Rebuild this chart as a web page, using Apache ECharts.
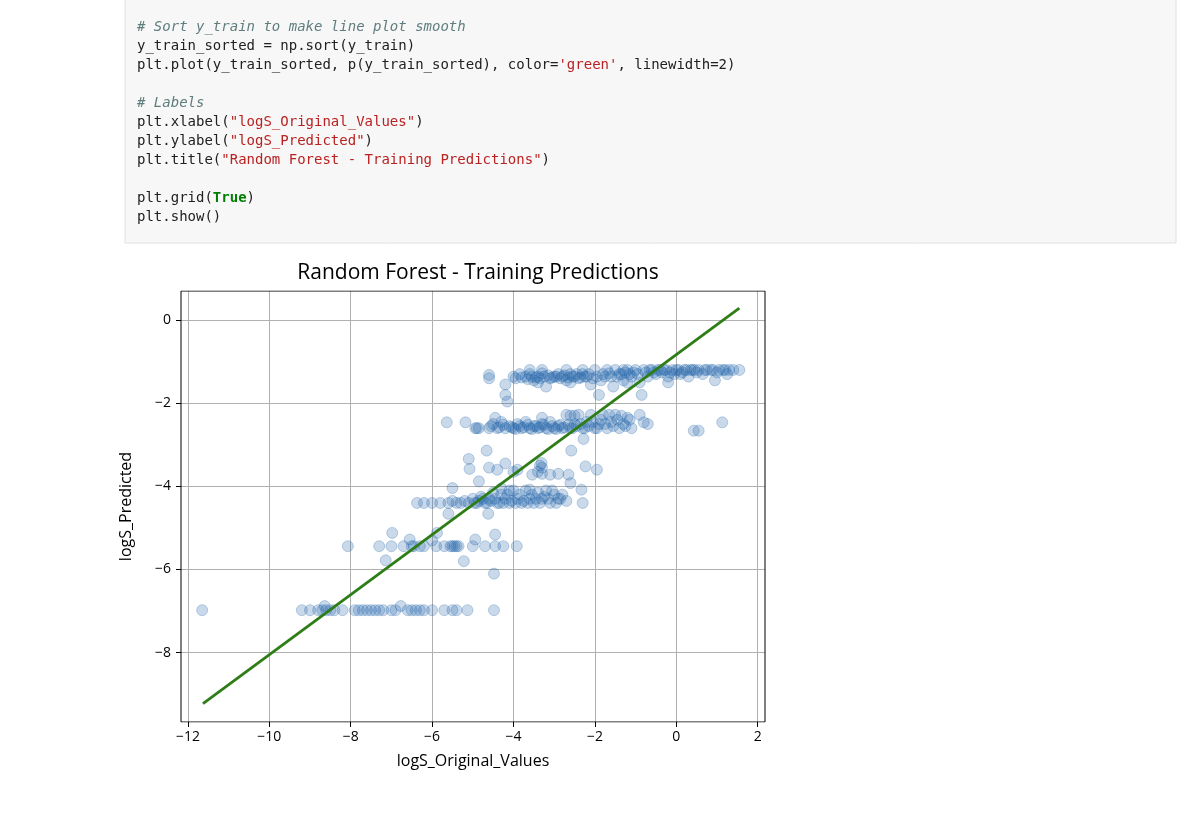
<!DOCTYPE html>
<html>
<head>
<meta charset="utf-8">
<script src="https://cdn.jsdelivr.net/npm/echarts@6/dist/echarts.min.js"></script>
<style>
html,body{margin:0;padding:0;background:#fff;}
#chart{width:1200px;height:816px;}
</style>
</head>
<body>
<div id="chart"></div>
<script>
// tick positions
var xTicks = [-12, -10, -8, -6, -4, -2, 0, 2];
var yTicks = [0, -2, -4, -6, -8];

// band around logS_Predicted -1.3
var bandTop = [
  [-4.6,-1.4],[-4.6,-1.32],[-4.2,-1.55],[-4.2,-1.8],[-4.15,-1.96],[-4.0,-1.36],[-3.85,-1.3],[-3.7,-1.36],
  [-3.6,-1.3],[-3.5,-1.45],[-3.4,-1.36],[-3.3,-1.28],[-3.2,-1.6],[-3.1,-1.4],[-3.0,-1.36],[-2.9,-1.3],
  [-2.8,-1.36],[-2.7,-1.45],[-2.6,-1.3],[-2.5,-1.36],[-2.4,-1.4],[-2.3,-1.3],[-2.2,-1.36],[-2.1,-1.55],
  [-2.0,-1.2],[-1.95,-1.36],[-1.9,-1.8],[-1.85,-1.45],[-1.8,-1.3],[-1.7,-1.2],[-1.6,-1.36],[-1.55,-1.6],
  [-1.5,-1.2],[-1.4,-1.3],[-1.3,-1.45],[-1.2,-1.2],[-1.1,-1.36],[-1.0,-1.2],[-0.9,-1.5],[-0.85,-1.8],
  [-0.8,-1.2],[-0.7,-1.36],[-0.6,-1.2],[-0.5,-1.3],[-0.4,-1.2],[-0.3,-1.2],[-0.2,-1.36],[-0.1,-1.2],
  [0.0,-1.2],[0.1,-1.3],[0.2,-1.2],[0.3,-1.36],[0.35,-1.2],[0.45,-1.2],[0.55,-1.2],[0.65,-1.3],
  [0.75,-1.2],[0.85,-1.2],[0.95,-1.45],[1.05,-1.2],[1.15,-1.2],[1.25,-1.3],[1.4,-1.2],[1.55,-1.2],
  [-3.3,-1.2],[-2.7,-1.2],[-2.3,-1.2],[-1.3,-1.2],[-0.2,-1.5],[-3.6,-1.2],
  [-3.95,-1.4],[-3.8,-1.38],[-3.65,-1.42],[-3.55,-1.36],[-3.45,-1.38],[-3.35,-1.4],[-3.25,-1.36],[-3.15,-1.33],
  [-3.05,-1.38],[-2.95,-1.36],[-2.85,-1.4],[-2.75,-1.33],[-2.65,-1.38],[-2.55,-1.36],[-2.45,-1.3],[-2.35,-1.38],
  [-2.25,-1.36],[-2.15,-1.3],[-2.05,-1.4],[-1.75,-1.36],[-1.65,-1.28],[-1.45,-1.36],[-1.35,-1.3],[-1.25,-1.26],
  [-1.15,-1.3],[-1.05,-1.26],[-0.95,-1.3],[-0.75,-1.26],[-0.65,-1.2],[-0.55,-1.26],[-0.45,-1.2],[-0.35,-1.26],
  [-0.25,-1.2],[-0.15,-1.26],[0.05,-1.2],[0.15,-1.26],[0.25,-1.2],[0.5,-1.26],[0.7,-1.2],[0.9,-1.2],
  [1.0,-1.26],[1.2,-1.2],[1.3,-1.2],[-1.2,-1.5],[-2.6,-1.5],[-3.4,-1.5],[-0.05,-1.3],[0.4,-1.2]
];
// band around -2.6
var bandMid = [
  [-5.64,-2.46],[-5.18,-2.46],[-4.94,-2.6],[-4.9,-2.6],[-4.6,-2.6],[-4.5,-2.5],[-4.4,-2.6],[-4.3,-2.45],
  [-4.2,-2.6],[-4.1,-2.55],[-4.0,-2.6],[-3.9,-2.5],[-3.8,-2.6],[-3.7,-2.45],[-3.6,-2.6],[-3.5,-2.55],
  [-3.4,-2.6],[-3.3,-2.5],[-3.2,-2.6],[-3.1,-2.45],[-3.0,-2.6],[-2.9,-2.55],[-2.8,-2.6],[-2.7,-2.28],
  [-2.6,-2.6],[-2.5,-2.5],[-2.4,-2.28],[-2.3,-2.6],[-2.28,-2.86],[-2.2,-2.45],[-2.1,-2.28],[-2.0,-2.6],
  [-1.9,-2.5],[-1.8,-2.28],[-1.7,-2.6],[-1.6,-2.45],[-1.5,-2.28],[-1.4,-2.6],[-1.3,-2.5],[-1.2,-2.35],
  [-1.1,-2.6],[-0.9,-2.28],[-0.8,-2.46],[-0.7,-2.5],[0.43,-2.66],[0.55,-2.66],[1.13,-2.46],[-3.3,-2.35],
  [-4.45,-2.35],
  [-4.85,-2.6],[-4.55,-2.55],[-4.35,-2.58],[-4.25,-2.52],[-4.05,-2.58],[-3.95,-2.62],[-3.85,-2.55],[-3.75,-2.58],
  [-3.65,-2.52],[-3.55,-2.62],[-3.45,-2.55],[-3.35,-2.58],[-3.25,-2.52],[-3.15,-2.62],[-3.05,-2.55],[-2.95,-2.62],
  [-2.85,-2.52],[-2.75,-2.58],[-2.65,-2.52],[-2.55,-2.6],[-2.45,-2.55],[-2.35,-2.5],[-2.25,-2.6],[-2.15,-2.55],
  [-2.05,-2.45],[-1.95,-2.6],[-1.85,-2.4],[-1.75,-2.5],[-1.65,-2.28],[-1.55,-2.55],[-1.45,-2.4],[-1.35,-2.3],
  [-1.25,-2.55],[-1.15,-2.4],[-2.6,-2.3],[-2.5,-2.3]
];
// scattered between -3 and -4
var scatterMid = [
  [-4.66,-3.14],[-2.58,-3.14],[-5.1,-3.34],[-5.08,-3.58],[-3.31,-3.44],[-3.3,-3.55],[-2.23,-3.52],[-1.95,-3.6],
  [-4.6,-3.55],[-4.4,-3.6],[-4.2,-3.45],[-4.0,-3.65],[-3.54,-3.72],[-3.1,-3.72],[-2.65,-3.72],[-4.85,-3.88],
  [-2.6,-3.92],[-5.5,-4.04],[-2.33,-4.08],[-3.9,-3.6],[-3.3,-3.7],[-3.4,-3.65],[-2.9,-3.7],[-3.35,-3.5]
];
// band around -4.4
var bandLow = [
  [-6.37,-4.4],[-6.2,-4.4],[-6.0,-4.4],[-5.8,-4.4],[-5.6,-4.4],[-5.5,-4.35],[-5.4,-4.4],[-5.3,-4.4],
  [-5.2,-4.35],[-5.1,-4.4],[-5.0,-4.3],[-4.9,-4.4],[-4.8,-4.25],[-4.7,-4.4],[-4.6,-4.3],[-4.5,-4.15],
  [-4.4,-4.4],[-4.3,-4.2],[-4.2,-4.3],[-4.1,-4.4],[-4.0,-4.1],[-3.9,-4.3],[-3.8,-4.4],[-3.7,-4.1],
  [-3.6,-4.3],[-3.5,-4.4],[-3.4,-4.15],[-3.3,-4.3],[-3.2,-4.1],[-3.1,-4.4],[-3.0,-4.2],[-2.9,-4.3],
  [-2.8,-4.2],[-2.7,-4.35],[-2.3,-4.4],[-5.6,-4.66],[-4.62,-4.66],[-3.6,-4.08],
  [-4.95,-4.4],[-4.85,-4.35],[-4.75,-4.3],[-4.65,-4.4],[-4.55,-4.35],[-4.45,-4.3],[-4.35,-4.4],[-4.25,-4.4],
  [-4.15,-4.2],[-4.05,-4.35],[-3.95,-4.4],[-3.85,-4.2],[-3.75,-4.35],[-3.65,-4.4],[-3.55,-4.2],[-3.45,-4.3],
  [-3.35,-4.4],[-3.25,-4.25],[-3.15,-4.3],[-3.05,-4.1],[-2.95,-4.4],[-2.85,-4.3],[-4.3,-4.05],[-4.1,-4.1]
];
// band around -5.4
var bandLower = [
  [-8.07,-5.44],[-6.98,-5.12],[-5.88,-5.12],[-4.45,-5.16],[-6.55,-5.28],[-4.94,-5.28],[-7.14,-5.78],
  [-5.22,-5.8],[-4.48,-6.1],[-7.3,-5.44],[-7.0,-5.44],[-6.7,-5.44],[-6.5,-5.44],[-6.3,-5.44],[-6.2,-5.44],
  [-5.9,-5.44],[-5.7,-5.44],[-5.5,-5.44],[-5.45,-5.44],[-5.35,-5.44],[-5.0,-5.44],[-4.7,-5.44],
  [-4.45,-5.44],[-4.25,-5.44],[-3.92,-5.44],[-6.0,-5.3],[-6.45,-5.44],[-5.55,-5.44],[-5.4,-5.44]
];
// band around -7.0
var bandBottom = [
  [-11.65,-6.98],[-9.2,-6.98],[-9.0,-6.98],[-8.8,-6.98],[-8.64,-6.88],[-8.5,-6.98],[-8.4,-6.98],[-8.2,-6.98],
  [-7.9,-6.98],[-7.7,-6.98],[-7.6,-6.98],[-7.4,-6.98],[-7.2,-6.98],[-7.0,-6.98],[-6.9,-6.98],[-6.77,-6.88],
  [-6.6,-6.98],[-6.4,-6.98],[-6.2,-6.98],[-6.0,-6.98],[-5.7,-6.98],[-5.5,-6.98],[-5.4,-6.98],[-5.13,-6.98],
  [-4.48,-6.98],[-7.8,-6.98],[-8.7,-6.98],[-8.6,-6.98],[-7.5,-6.98],[-7.3,-6.98],[-6.5,-6.98],[-6.3,-6.98]
];
// fitted line endpoints (y_train_sorted min / max)
var fitLine = [[-11.63,-9.23],[1.55,0.29]];

var codeLines = [
  '{c|# Sort y_train to make line plot smooth}',
  '{k|y_train_sorted = np.sort(y_train)}',
  '{k|plt.plot(y_train_sorted, p(y_train_sorted), color=}{s|\'green\'}{k|, linewidth=2)}',
  '',
  '{c|# Labels}',
  '{k|plt.xlabel(}{s|"logS_Original_Values"}{k|)}',
  '{k|plt.ylabel(}{s|"logS_Predicted"}{k|)}',
  '{k|plt.title(}{s|"Random Forest - Training Predictions"}{k|)}',
  '',
  '{k|plt.grid(}{t|True}{k|)}',
  '{k|plt.show()}'
];

function minus(v) { return String(v).replace('-', '\u2212'); }

var chart = echarts.init(document.getElementById('chart'));
var pts = [].concat(bandTop, bandMid, scatterMid, bandLow, bandLower, bandBottom);
var mono = 'DejaVu Sans Mono';
var lineH = [28, 47, 66, 85, 104, 123, 142, 161, 180, 199, 218];
var graphics = [{
  type: 'rect', shape: {x: 125, y: -1, width: 1051, height: 244},
  style: {fill: '#f7f7f7', stroke: '#e0e0e0'}, z: 0
}];
codeLines.forEach(function (l, i) {
  if (!l) return;
  graphics.push({
    type: 'text', left: 137, top: lineH[i] - 8,
    style: {
      text: l, font: '14px ' + mono,
      rich: {
        k: {fontFamily: mono, fontSize: 14, fill: '#212121'},
        c: {fontFamily: mono, fontSize: 14, fill: '#5f7d7d', fontStyle: 'italic'},
        s: {fontFamily: mono, fontSize: 14, fill: '#ba2121'},
        t: {fontFamily: mono, fontSize: 14, fill: '#008000', fontWeight: 'bold'}
      }
    }
  });
});

chart.setOption({
  animation: false,
  title: {
    text: 'Random Forest - Training Predictions', left: 473, top: 258, textAlign: 'center',
    textStyle: {fontFamily: 'Open Sans', fontSize: 21, fontWeight: 'normal', color: '#000'}
  },
  graphic: graphics,
  grid: {left: 181, right: 435, top: 291, bottom: 94},
  xAxis: {
    type: 'value', min: -12.17, max: 2.18,
    name: 'logS_Original_Values', nameLocation: 'middle', nameGap: 31,
    nameTextStyle: {fontFamily: 'Open Sans', fontSize: 16, color: '#000'},
    axisLine: {show: false, onZero: false},
    axisTick: {show: true, length: 5, lineStyle: {color: '#000'}, customValues: xTicks},
    axisLabel: {customValues: xTicks, formatter: minus, fontFamily: 'Open Sans', fontSize: 14, color: '#000', margin: 8},
    splitLine: {show: true, lineStyle: {color: '#b0b0b0', width: 1}}
  },
  yAxis: {
    type: 'value', min: -9.67, max: 0.7,
    name: 'logS_Predicted', nameLocation: 'middle', nameGap: 47,
    nameTextStyle: {fontFamily: 'Open Sans', fontSize: 16, color: '#000'},
    axisLine: {show: false, onZero: false},
    axisTick: {show: true, length: 5, lineStyle: {color: '#000'}, customValues: yTicks},
    axisLabel: {customValues: yTicks, formatter: minus, fontFamily: 'Open Sans', fontSize: 14, color: '#000', margin: 10},
    splitLine: {show: true, lineStyle: {color: '#b0b0b0', width: 1}}
  },
  series: [{
    type: 'scatter', data: pts, symbolSize: 11,
    itemStyle: {color: 'rgba(31,100,170,0.3)', borderColor: 'rgba(31,100,170,0.35)', borderWidth: 1}
  }, {
    type: 'line', data: fitLine, symbol: 'none', z: 3,
    lineStyle: {color: '#2e7d16', width: 2.8}
  }, {
    // axes frame
    type: 'line', data: [[-12.17,-9.67],[2.18,-9.67],[2.18,0.7],[-12.17,0.7],[-12.17,-9.67]],
    symbol: 'none', silent: true, lineStyle: {color: '#000', width: 1}
  }]
});
</script>
</body>
</html>
